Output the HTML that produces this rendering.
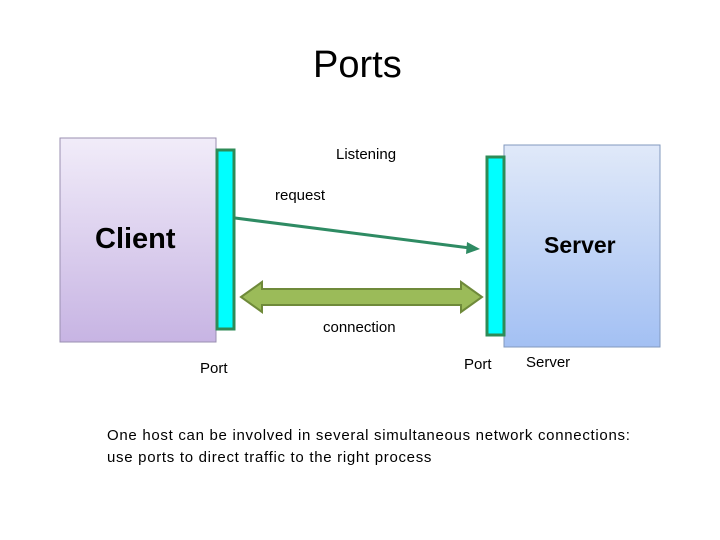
<!DOCTYPE html>
<html><head><style>
body{margin:0;width:720px;height:540px;background:#fff;position:relative;font-family:"Liberation Sans",sans-serif;overflow:hidden}
.t{position:absolute;white-space:nowrap;color:#000}
</style></head><body>
<svg width="720" height="540" style="position:absolute;left:0;top:0">
<defs>
<linearGradient id="cg" x1="0" y1="0" x2="0" y2="1"><stop offset="0" stop-color="#f1ecf9"/><stop offset="1" stop-color="#c7b4e3"/></linearGradient>
<linearGradient id="sg" x1="0" y1="0" x2="0" y2="1"><stop offset="0" stop-color="#e0e9f9"/><stop offset="1" stop-color="#a3c0f3"/></linearGradient>
</defs>
<rect x="60" y="138" width="156" height="204" fill="url(#cg)" stroke="#9a8fb0" stroke-width="1"/>
<rect x="504" y="145" width="156" height="202" fill="url(#sg)" stroke="#8298be" stroke-width="1"/>
<rect x="217" y="150" width="17" height="179" fill="#00ffff" stroke="#2e8b57" stroke-width="3"/>
<rect x="487" y="157" width="17" height="178" fill="#00ffff" stroke="#2e8b57" stroke-width="3"/>
<line x1="235" y1="218" x2="470" y2="248" stroke="#2e8b63" stroke-width="3"/>
<polygon points="480,249 467,242 466,254" fill="#2e8b63"/>
<polygon points="241,297 262,282 262,289 461,289 461,282 482,297 461,312 461,305 262,305 262,312" fill="#9bbb59" stroke="#6f8a3a" stroke-width="2"/>
</svg>
<div class="t" style="left:313px;top:44px;font-size:38px">Ports</div>
<div class="t" style="left:336px;top:146px;font-size:15px">Listening</div>
<div class="t" style="left:275px;top:187px;font-size:15px">request</div>
<div class="t" style="left:95px;top:223px;font-size:29px;font-weight:bold">Client</div>
<div class="t" style="left:544px;top:232px;font-size:23px;font-weight:bold">Server</div>
<div class="t" style="left:323px;top:319px;font-size:15px">connection</div>
<div class="t" style="left:200px;top:360px;font-size:15px">Port</div>
<div class="t" style="left:464px;top:356px;font-size:15px">Port</div>
<div class="t" style="left:526px;top:354px;font-size:15px">Server</div>
<div class="t" style="left:107px;top:425px;font-size:15px;line-height:22px;letter-spacing:0.7px">One host can be involved in several simultaneous network connections:<br>use ports to direct traffic to the right process</div>
</body></html>
